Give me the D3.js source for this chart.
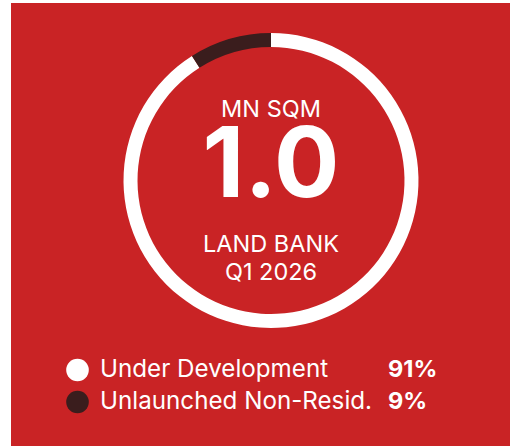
<!DOCTYPE html>
<html><head><meta charset="utf-8">
<script src="https://cdn.jsdelivr.net/npm/d3@7"></script>
<style>body{margin:0;background:#fff}svg{display:block}</style>
</head><body>
<script>
const categories = ["Under Development", "Unlaunched Non-Resid."];
const values = [91, 9];
const labels = ["91%", "9%"];
const colors = ["#ffffff", "#3a1d1d"];
const centerTitle = "MN SQM";
const centerValue = "1.0";
const centerSub = ["LAND BANK", "Q1 2026"];

const W = 510, H = 446;
const svg = d3.select("body").append("svg").attr("width", W).attr("height", H);
svg.append("rect").attr("x", 11).attr("y", 3).attr("width", W - 11).attr("height", H - 3).attr("fill", "#c92325");

const cx = 271, cy = 180.5, rOut = 147.5, rIn = 133.5;
const pie = d3.pie().sort(null).value(d => d);
const arc = d3.arc().innerRadius(rIn).outerRadius(rOut);
const g = svg.append("g").attr("transform", `translate(${cx},${cy})`);
g.selectAll("path").data(pie(values)).join("path").attr("d", arc).attr("fill", (d, i) => colors[i]);

const font = "Inter, 'Noto Sans', sans-serif";
g.append("text").attr("x", 0).attr("y", 117 - cy).attr("text-anchor", "middle")
  .attr("font-family", font).attr("font-size", 23.5).attr("fill", "#fff").text(centerTitle);
g.append("text").attr("x", 0).attr("y", 197 - cy).attr("text-anchor", "middle")
  .attr("font-family", font).attr("font-weight", 700).attr("font-size", 97).attr("fill", "#fff").text(centerValue);
centerSub.forEach((t, i) => {
  g.append("text").attr("x", 0).attr("y", [252, 280][i] - cy).attr("text-anchor", "middle")
    .attr("font-family", font).attr("font-size", 23.5).attr("fill", "#fff").text(t);
});

const ly = d3.scalePoint().domain(categories).range([370, 402]);
const leg = svg.append("g");
categories.forEach((c, i) => {
  const y = ly(c);
  leg.append("circle").attr("cx", 77.5).attr("cy", y).attr("r", 11.3).attr("fill", colors[i]);
  leg.append("text").attr("x", 100).attr("y", y + 7).attr("font-family", font).attr("font-size", 24.2)
    .attr("fill", "#fff").text(c);
  leg.append("text").attr("x", 388).attr("y", y + 7).attr("font-family", font).attr("font-weight", 700)
    .attr("font-size", 23.5).attr("fill", "#fff").text(labels[i]);
});
</script>
</body></html>
